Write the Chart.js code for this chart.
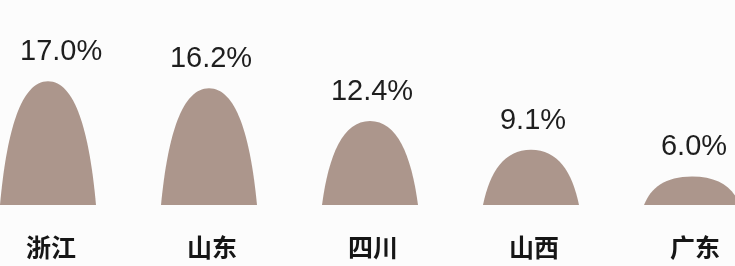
<!DOCTYPE html>
<html>
<head>
<meta charset="utf-8">
<script src="https://cdn.jsdelivr.net/npm/chart.js@4/dist/chart.umd.min.js"></script>
<style>
html,body{margin:0;padding:0;background:#fcfcfc;}
#wrap{width:735px;height:266px;position:relative;}
</style>
</head>
<body>
<div id="wrap"><canvas id="c" width="735" height="266"></canvas></div>
<script>
const categories = ['浙江', '山东', '四川', '山西', '广东'];
const shares = [17.0, 16.2, 12.4, 9.1, 6.0];
const valueLabels = ['17.0%', '16.2%', '12.4%', '9.1%', '6.0%'];

const archPlugin = {
  id: 'arch',
  afterDatasetsDraw(chart) {
    const ctx = chart.ctx;
    const meta = chart.getDatasetMeta(0);
    const yScale = chart.scales.y;
    const base = yScale.bottom;
    ctx.save();
    meta.data.forEach((bar, i) => {
      const p = bar.getProps(['x', 'y', 'width'], true);
      const hw = p.width / 2;
      const h = base - p.y;
      ctx.beginPath();
      ctx.moveTo(p.x - hw, base);
      ctx.bezierCurveTo(p.x - hw * 0.86, base - h * 0.6, p.x - hw * 0.56, p.y, p.x, p.y);
      ctx.bezierCurveTo(p.x + hw * 0.56, p.y, p.x + hw * 0.86, base - h * 0.6, p.x + hw, base);
      ctx.closePath();
      ctx.fillStyle = '#ac968c';
      ctx.fill();
      // value label
      ctx.fillStyle = '#1e1e1e';
      ctx.font = '29px "Liberation Sans", Arial, sans-serif';
      ctx.textAlign = 'center';
      ctx.textBaseline = 'alphabetic';
      const tw = ctx.measureText(valueLabels[i]).width;
      const lx = Math.max(p.x + 2, 20 + tw / 2);
      ctx.fillText(valueLabels[i], lx, p.y - 21);
      // category label
      ctx.font = 'bold 25px "Noto Sans CJK SC", sans-serif';
      ctx.textBaseline = 'middle';
      ctx.fillStyle = '#161616';
      ctx.fillText(categories[i], p.x + 3, base + 42);
    });
    ctx.restore();
  }
};

new Chart(document.getElementById('c'), {
  type: 'bar',
  data: {
    labels: categories,
    datasets: [{
      data: shares,
      backgroundColor: 'rgba(0,0,0,0)',
      borderWidth: 0,
      barThickness: 96
    }]
  },
  options: {
    responsive: false,
    animation: false,
    events: [],
    layout: { padding: { left: 48, right: 43, top: 0, bottom: 61 } },
    plugins: { legend: { display: false }, tooltip: { enabled: false } },
    scales: {
      x: { type: 'category', offset: false, display: false, grid: { display: false } },
      y: { display: false, min: 2.7, max: 26.4, grid: { display: false } }
    }
  },
  plugins: [archPlugin]
});
</script>
</body>
</html>
